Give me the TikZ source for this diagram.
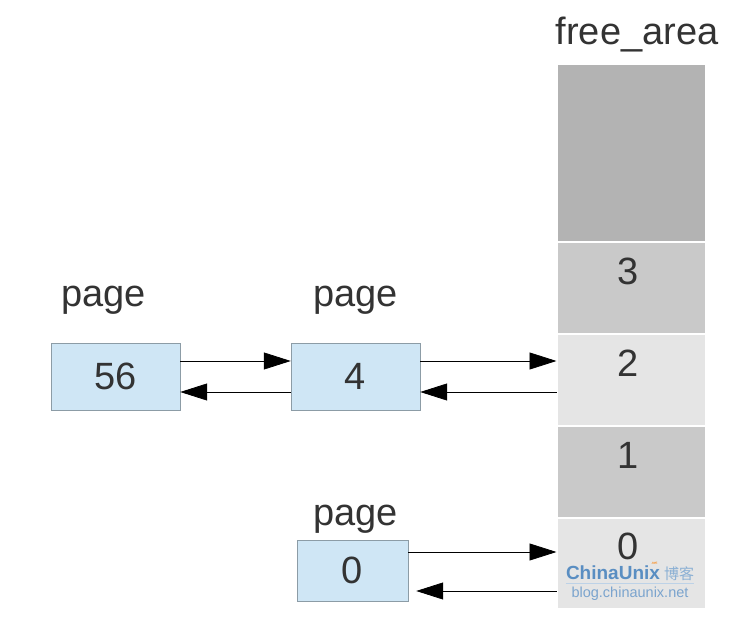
\documentclass[tikz,border=0pt]{standalone}
\usepackage{fontspec}
\setmainfont{Liberation Sans}
\newfontfamily\cjk{Noto Sans CJK SC}
\usetikzlibrary{arrows.meta,positioning,calc}
\definecolor{pagefill}{HTML}{CFE6F5}
\definecolor{pageline}{HTML}{8C9CA6}
\definecolor{txtgray}{HTML}{333333}
\definecolor{darkcell}{HTML}{B3B3B3}
\definecolor{midcell}{HTML}{C9C9C9}
\definecolor{lightcell}{HTML}{E5E5E5}
\definecolor{wmblue}{HTML}{5A8EC2}

\begin{document}
\begin{tikzpicture}[x=1pt,y=-1pt,->,>={Triangle[length=27pt,width=17pt]},
    every node/.style={text=txtgray,font=\fontsize{38}{44}\selectfont},
    pagebox/.style={draw=pageline,fill=pagefill,minimum width=129pt,
      minimum height=67pt,inner sep=0pt},
    cell/.style={draw=white,line width=1pt,minimum width=148pt,
      minimum height=91pt,inner sep=0pt},
    num/.style={anchor=north,inner sep=0pt,yshift=-16pt,xshift=-3pt},
    lbl/.style={inner sep=0pt},
    link/.style={draw=black,line width=0.8pt},
    wm/.style={text=wmblue,inner sep=0pt}]
    \useasboundingbox (0,0) rectangle (740,628);

    % free_area column
    \node[cell,fill=darkcell,minimum height=177pt] (ctop) at (631,153) {};
    \node[cell,fill=midcell,below=0pt of ctop,label={[num]north:3}] (c3) {};
    \node[cell,fill=lightcell,below=0pt of c3,label={[num]north:2}] (c2) {};
    \node[cell,fill=midcell,below=0pt of c2,label={[num]north:1}] (c1) {};
    \node[cell,fill=lightcell,below=0pt of c1,minimum height=90pt,
      label={[num,yshift=1pt]north:0}] (c0) {};
    \node[lbl] (farea) at (637,35) {free\_area};

    % pages
    \node[pagebox] (p56) at (115.5,376.5) {56};
    \node[pagebox] (p4) at (355.5,376.5) {4};
    \node[pagebox,minimum width=111pt,minimum height=61pt] (p0) at (352.5,570.5) {0};
    \node[lbl,above=28pt of p56,xshift=-12pt] (l56) {page};
    \node[lbl,above=28pt of p4] (l4) {page};
    \node[lbl,above=6pt of p0,xshift=3pt] (l0) {page};

    % links
    \draw[link] ([yshift=15.5pt]p56.east) -- ([yshift=15.5pt]p4.west);
    \draw[link] ([yshift=-15.5pt]p4.west) -- ([yshift=-15.5pt]p56.east);
    \draw[link] ([yshift=15.5pt]p4.east) -- ([yshift=15.5pt]p4.east -| c2.west);
    \draw[link] ([yshift=-15.5pt]p4.east -| c2.west) -- ([yshift=-15.5pt]p4.east);
    \draw[link] ([yshift=18.5pt]p0.east) -- ([yshift=18.5pt]p0.east -| c0.west);
    \draw[link,shorten >=8pt] ([yshift=-20.5pt]p0.east -| c0.west) -- ([yshift=-20.5pt]p0.east);

    % watermark
    \node[wm,font=\fontsize{19}{22}\bfseries] (wm1) at (613,573) {ChinaUnix};
    \node[wm,font=\cjk\fontsize{15}{18}\selectfont,text=wmblue!70] (wm2) at (679,574) {博客};
    \node[wm,font=\fontsize{4}{5}\selectfont,text=orange,above=1pt of wm1.north east,xshift=-6pt] (wm4) {.net};
    \draw[-,draw=wmblue!40,line width=0.5pt] ([yshift=-3pt]wm1.south west) -- ([yshift=-3pt]wm1.south west -| wm2.east);
    \node[wm,font=\fontsize{14.5}{17}\selectfont,text=wmblue!80] (wm3) at (630,594) {blog.chinaunix.net};
\end{tikzpicture}
\end{document}
